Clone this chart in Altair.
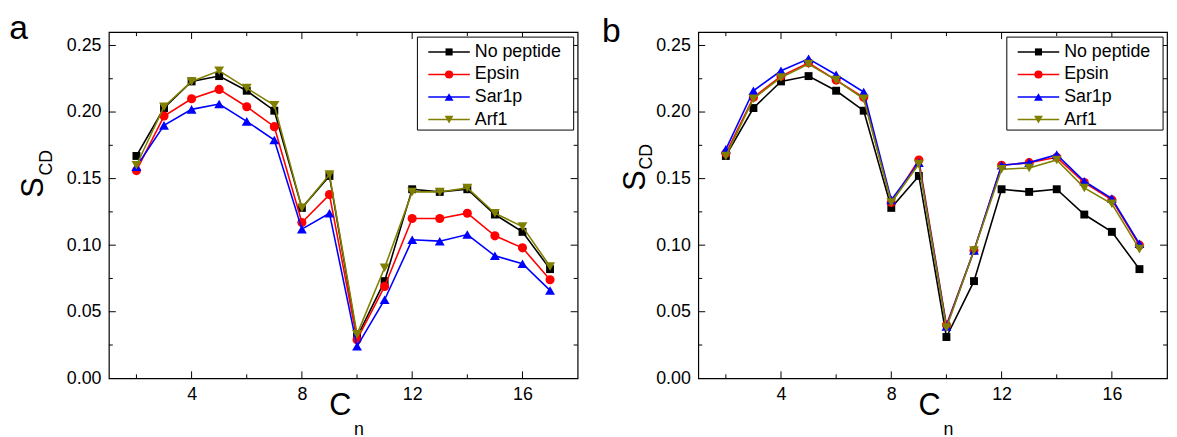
import altair as alt
import pandas as pd

# ---------------- data ----------------
cn = list(range(2, 18))
series = ["No peptide", "Epsin", "Sar1p", "Arf1"]
colors = ["#000000", "#ff0000", "#0000ff", "#808000"]
shapes = ["square", "circle", "triangle-up", "triangle-down"]
sizes = [64, 85, 100, 100]

no_peptide = [0.167, 0.203, 0.223, 0.227, 0.216, 0.201, 0.128, 0.152,
              0.031, 0.073, 0.142, 0.140, 0.142, 0.123, 0.110, 0.082]

a_epsin = [0.156, 0.197, 0.210, 0.217, 0.204, 0.189, 0.117, 0.138,
           0.029, 0.069, 0.120, 0.120, 0.124, 0.107, 0.098, 0.074]
a_sar1p = [0.159, 0.190, 0.202, 0.206, 0.193, 0.179, 0.112, 0.124,
           0.024, 0.059, 0.104, 0.103, 0.108, 0.092, 0.086, 0.066]
a_arf1 = [0.160, 0.204, 0.223, 0.231, 0.218, 0.205, 0.128, 0.153,
          0.033, 0.083, 0.140, 0.140, 0.143, 0.124, 0.114, 0.084]

b_epsin = [0.169, 0.211, 0.227, 0.237, 0.224, 0.211, 0.132, 0.164,
           0.040, 0.096, 0.160, 0.162, 0.166, 0.147, 0.134, 0.100]
b_sar1p = [0.172, 0.216, 0.231, 0.240, 0.228, 0.215, 0.134, 0.162,
           0.039, 0.096, 0.160, 0.162, 0.168, 0.148, 0.135, 0.101]
b_arf1 = [0.167, 0.210, 0.226, 0.236, 0.224, 0.210, 0.132, 0.161,
          0.038, 0.096, 0.157, 0.158, 0.164, 0.143, 0.131, 0.097]

x_labels = [4, 8, 12, 16]
x_minor = [2, 6, 10, 14]
y_labels = [0.00, 0.05, 0.10, 0.15, 0.20, 0.25]
y_major = [0.05, 0.10, 0.15, 0.20, 0.25]
y_minor = [0.025, 0.075, 0.125, 0.175, 0.225]
x_domain = [1, 18]
y_domain = [0, 0.26]

# ---------------- layout / style ----------------
W, H = 474, 350
FONT = "Liberation Sans"
MAJ, MIN = 7, 4

xs = alt.Scale(domain=x_domain, nice=False, zero=False)
ys = alt.Scale(domain=y_domain, nice=False, zero=False)
xaxis = alt.Axis(values=x_labels, format="d", title=None, ticks=False,
                 domain=False, grid=False, labelFontSize=18, labelFont=FONT,
                 labelColor="black", labelPadding=7)
yaxis = alt.Axis(values=y_labels, format=".2f", title=None, ticks=False,
                 domain=False, grid=False, labelFontSize=18, labelFont=FONT,
                 labelColor="black", labelPadding=8)
one = pd.DataFrame({"k": [0]})


def X(f):
    return alt.X(f, scale=xs, axis=xaxis, title=None)


def Y(f):
    return alt.Y(f, scale=ys, axis=yaxis, title=None)


def tick_layers():
    layers = []
    for vals, ln in ((x_labels, MAJ), (x_minor, MIN)):
        d = pd.DataFrame({"Cn": vals})
        base = alt.Chart(d).mark_rule(color="black", strokeWidth=1)
        layers.append(base.encode(x=X("Cn:Q"), y=alt.value(H), y2=alt.value(H - ln)))
        layers.append(base.encode(x=X("Cn:Q"), y=alt.value(0), y2=alt.value(ln)))
    for vals, ln in ((y_major, MAJ), (y_minor, MIN)):
        d = pd.DataFrame({"SCD": vals})
        base = alt.Chart(d).mark_rule(color="black", strokeWidth=1)
        layers.append(base.encode(y=Y("SCD:Q"), x=alt.value(0), x2=alt.value(ln)))
        layers.append(base.encode(y=Y("SCD:Q"), x=alt.value(W), x2=alt.value(W - ln)))
    return layers


def text(t, x, y, size, angle=0, align="left", baseline="alphabetic"):
    kw = dict(text=t, fontSize=size, font=FONT, color="black",
              align=align, baseline=baseline)
    if angle:
        kw["angle"] = angle
    return alt.Chart(one).mark_text(**kw).encode(x=alt.value(x), y=alt.value(y))


def panel(letter, values, letter_x, letter_y, s_pos, cd_pos):
    layers = tick_layers()
    for i, (name, vals) in enumerate(zip(series, values)):
        d = pd.DataFrame({"Cn": cn, "SCD": vals})
        layers.append(alt.Chart(d).mark_line(color=colors[i], strokeWidth=1.6)
                      .encode(x=X("Cn:Q"), y=Y("SCD:Q")))
        layers.append(alt.Chart(d).mark_point(filled=True, opacity=1,
                                              shape=shapes[i], size=sizes[i],
                                              color=colors[i])
                      .encode(x=X("Cn:Q"), y=Y("SCD:Q")))

    # legend box
    layers.append(alt.Chart(one).mark_rect(fill="white", stroke="black",
                                           strokeWidth=1)
                  .encode(x=alt.value(312), x2=alt.value(W - 4),
                          y=alt.value(5), y2=alt.value(99)))
    for i, name in enumerate(series):
        yy = 20 + 22.8 * i
        layers.append(alt.Chart(one).mark_rule(color=colors[i], strokeWidth=1.6)
                      .encode(x=alt.value(323), x2=alt.value(365),
                              y=alt.value(yy)))
        layers.append(alt.Chart(one).mark_point(filled=True, opacity=1,
                                                shape=shapes[i], size=sizes[i] * 0.8,
                                                color=colors[i])
                      .encode(x=alt.value(344), y=alt.value(yy)))
        layers.append(text(name, 370, yy, 18, baseline="middle"))

    # panel letter and axis titles
    layers.append(text(letter, letter_x, letter_y, 34))
    layers.append(text("S", s_pos[0], s_pos[1], 31, angle=270,
                       align="center", baseline="middle"))
    layers.append(text("CD", cd_pos[0], cd_pos[1], 18, angle=270,
                       align="center", baseline="middle"))
    layers.append(text("C", 234, 387, 31, align="center"))
    layers.append(text("n", 248, 407, 18))
    return alt.layer(*layers).properties(width=W, height=H)


pa = panel("a", [no_peptide, a_epsin, a_sar1p, a_arf1], -100.7, 6.5,
           (-76, 157), (-63, 132))
pb = panel("b", [no_peptide, b_epsin, b_sar1p, b_arf1], -97.3, 9.7,
           (-63, 150), (-52, 126))

chart = alt.hconcat(pa, pb, spacing=22).properties(
    padding={"left": 0, "top": 0, "right": 0, "bottom": 0}
).configure(font=FONT, view=alt.ViewConfig(stroke="black", strokeWidth=1.2))

chart.save("out.html", embed_options={"renderer": "svg", "actions": False})
